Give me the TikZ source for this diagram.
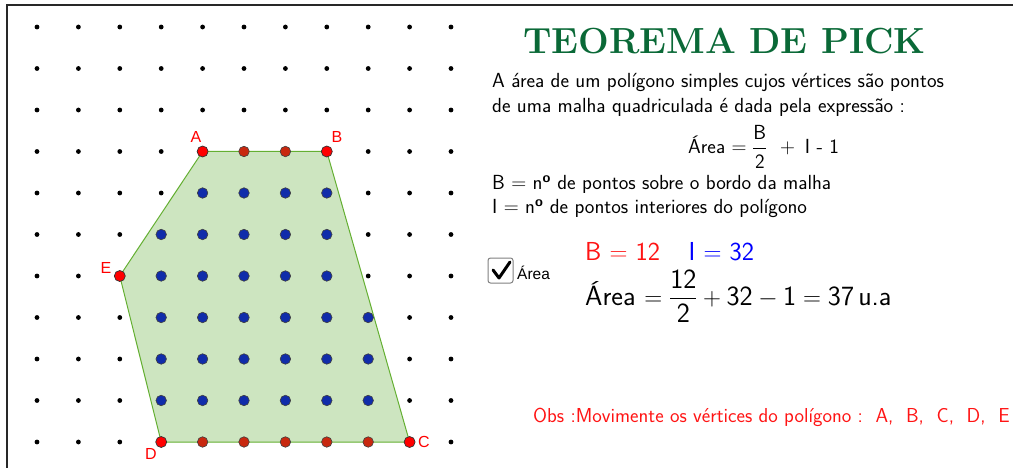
\documentclass[tikz,border=0pt]{standalone}
\usepackage{amsmath}
\usepackage{fontspec}
\newfontfamily\lblfont{Liberation Sans}
\definecolor{titlegreen}{RGB}{10,105,55}
\definecolor{polyfill}{RGB}{205,229,192}
\definecolor{polyedge}{RGB}{100,175,50}
\definecolor{ptblue}{RGB}{16,44,170}
\definecolor{ptred}{RGB}{255,0,0}
\definecolor{ptdarkred}{RGB}{200,40,15}
\definecolor{framegray}{RGB}{40,40,40}
\definecolor{txtred}{RGB}{255,20,20}
\definecolor{txtblue}{RGB}{0,0,255}
\newcommand{\bodyfont}{\fontsize{20.4}{24}\selectfont\sffamily}
\newcommand{\ordo}{\textsuperscript{\bfseries o}}
\begin{document}
\begin{tikzpicture}[x=1pt,y=-1pt,
  griddot/.style={circle,fill=black,inner sep=0pt,minimum size=4.8pt},
  interiorpt/.style={circle,fill=ptblue,draw=black!75,line width=0.6pt,inner sep=0pt,minimum size=10.5pt},
  boundarypt/.style={circle,fill=ptdarkred,draw=black!75,line width=0.6pt,inner sep=0pt,minimum size=10.5pt},
  vertexpt/.style={circle,fill=ptred,draw=black!80,line width=0.7pt,inner sep=0pt,minimum size=11pt},
  ptlabel/.style={text=ptred,font=\fontsize{16}{18}\selectfont\lblfont,inner sep=0pt},
  bodytext/.style={anchor=base west,inner sep=0pt,font=\bodyfont}]
\useasboundingbox (0,0) rectangle (1013,468);
\draw[framegray,line width=1.5pt] (1013,5) -- (7,5) -- (7,468);
% grid
\begin{scope}[shift={(37,27)},x=41.4pt,y=-41.5pt]
  \foreach \i in {0,...,10}{\foreach \j in {0,...,10}{\node[griddot] (g-\i-\j) at (\i,\j) {};}}
  \coordinate (A) at (4,3);
  \coordinate (B) at (7,3);
  \coordinate (C) at (9,10);
  \coordinate (D) at (3,10);
  \coordinate (E) at (2,6);
  \filldraw[fill=polyfill,draw=polyedge,line width=1pt] (A) -- (B) -- (C) -- (D) -- (E) -- cycle;
  \foreach \y/\a/\b in {4/4/7,5/3/7,6/3/7,7/3/8,8/3/8,9/3/8}{
    \foreach \x in {\a,...,\b}{\node[interiorpt] (in-\x-\y) at (\x,\y) {};}}
  \foreach \x/\y in {5/3,6/3,4/10,5/10,6/10,7/10,8/10}{\node[boundarypt] (bd-\x-\y) at (\x,\y) {};}
  \foreach \v in {A,B,C,D,E}{\node[vertexpt] (p\v) at (\v) {};}
\end{scope}
\node[ptlabel] (lA) at (196,137) {A};
\node[ptlabel] (lB) at (337,137) {B};
\node[ptlabel] (lC) at (424,442) {C};
\node[ptlabel] (lD) at (151,454) {D};
\node[ptlabel] (lE) at (106,268) {E};
% title and text
\node[anchor=base west,inner sep=0pt,text=titlegreen,font=\fontsize{36.3}{40}\selectfont\bfseries] (title) at (523,54) {TEOREMA DE PICK};
\node[bodytext] (l1) at (492,88) {A área de um polígono simples cujos vértices são pontos};
\node[bodytext] (l2) at (492,113) {de uma malha quadriculada é dada pela expressão :};
\node[anchor=west,inner sep=0pt,font=\bodyfont] (formula) at (688,147) {Área $=\dfrac{\mathsf{B}}{\mathsf{2}}\ \ +\ \,$I - 1};
\node[bodytext] (l3) at (492,190) {B $=$ n\ordo{} de pontos sobre o bordo da malha};
\node[bodytext] (l4) at (492,214) {I $=$ n\ordo{} de pontos interiores do polígono};
% checkbox
\draw[gray,rounded corners=2.5pt,line width=1pt,fill=white] (488,258) rectangle (513,283);
\draw[line width=3pt,line cap=round,line join=round] (493,270) -- (499,278) -- (510,262);
\node[anchor=base west,inner sep=0pt,font=\fontsize{15.5}{17}\selectfont\lblfont] (chk) at (517,279) {Área};
% values
\node[anchor=base west,inner sep=0pt,font=\fontsize{26}{30}\selectfont\sffamily] (vals) at (585,260)
  {\textcolor{txtred}{B $=$ 12}\hspace{1.1em}\textcolor{txtblue}{I $=$ 32}};
\node[anchor=base west,inner sep=0pt,font=\fontsize{27.8}{32}\selectfont\sffamily] (area) at (585,305)
  {Área $=\dfrac{\mathsf{12}}{\mathsf{2}}+\mathsf{32}-\mathsf{1}=\mathsf{37}\,$u.a};
\node[anchor=base west,inner sep=0pt,text=txtred,font=\fontsize{20.2}{24}\selectfont\sffamily] (obs) at (533,422)
  {Obs :Movimente os vértices do polígono :\ \ A,\ \ B,\ \ C,\ \ D,\ \ E};
\end{tikzpicture}
\end{document}
